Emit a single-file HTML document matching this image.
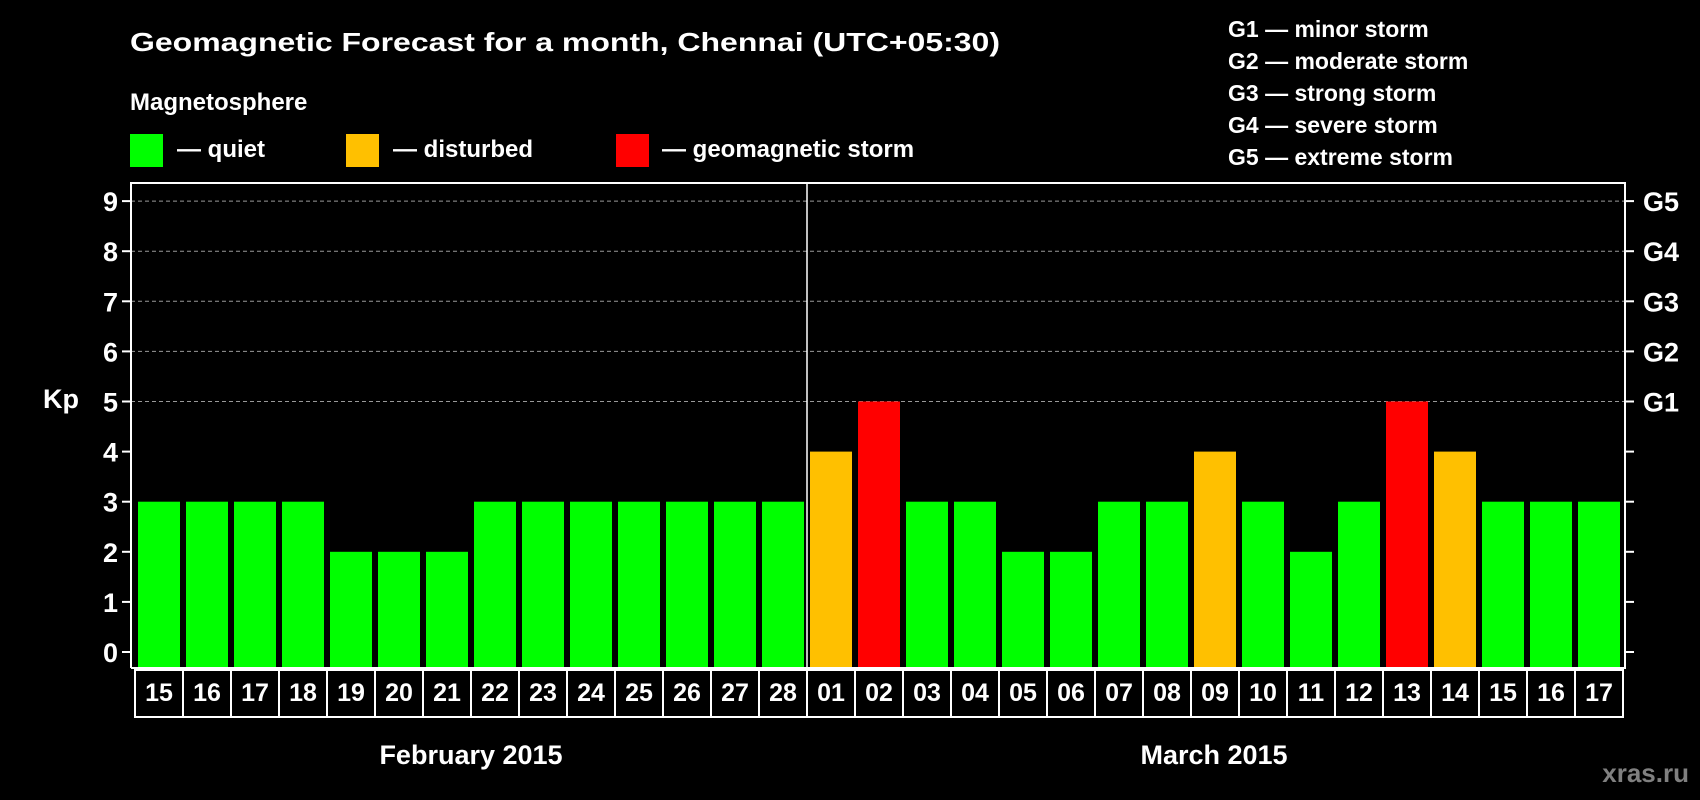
<!DOCTYPE html>
<html><head><meta charset="utf-8"><style>
html,body{margin:0;padding:0;background:#000;}
svg{display:block;font-family:"Liberation Sans",Arial,sans-serif;font-weight:bold;}
</style></head><body>
<svg id="chart" width="1700" height="800" viewBox="0 0 1700 800" xmlns="http://www.w3.org/2000/svg">
<rect width="1700" height="800" fill="#000"/>
<text x="130" y="51" fill="#fff" font-size="26" textLength="870" lengthAdjust="spacingAndGlyphs">Geomagnetic Forecast for a month, Chennai (UTC+05:30)</text>
<text x="130" y="110" fill="#fff" font-size="24">Magnetosphere</text>
<g>
<rect x="130" y="134" width="33" height="33" fill="#00ff00"/>
<text x="177" y="157" fill="#fff" font-size="24">— quiet</text></g>
<g>
<rect x="346" y="134" width="33" height="33" fill="#ffc000"/>
<text x="393" y="157" fill="#fff" font-size="24">— disturbed</text></g>
<g>
<rect x="616" y="134" width="33" height="33" fill="#ff0000"/>
<text x="662" y="157" fill="#fff" font-size="24">— geomagnetic storm</text></g>
<g fill="#fff" font-size="23">
<text x="1228" y="37">G1 — minor storm</text>
<text x="1228" y="69">G2 — moderate storm</text>
<text x="1228" y="101">G3 — strong storm</text>
<text x="1228" y="133">G4 — severe storm</text>
<text x="1228" y="165">G5 — extreme storm</text>
</g>
<text x="43" y="408" fill="#fff" font-size="27">Kp</text>
<g id="grid"></g>
<g id="bars"></g>
<g id="axes"></g>
<text x="471" y="764" fill="#fff" font-size="27" text-anchor="middle">February 2015</text>
<text x="1214" y="764" fill="#fff" font-size="27" text-anchor="middle">March 2015</text>
<text x="1689" y="782" fill="#808080" font-size="26" text-anchor="end">xras.ru</text>
</svg>
<script>
const days = ["15","16","17","18","19","20","21","22","23","24","25","26","27","28","01","02","03","04","05","06","07","08","09","10","11","12","13","14","15","16","17"];
const kpValues = [3,3,3,3,2,2,2,3,3,3,3,3,3,3,4,5,3,3,2,2,3,3,4,3,2,3,5,4,3,3,3];
const yTicks = [0,1,2,3,4,5,6,7,8,9];
const gLabels = ["G1","G2","G3","G4","G5"];
const monthBreakIndex = 14;

const NS = "http://www.w3.org/2000/svg";
const plotL = 131, plotR = 1625, plotT = 183, plotB = 668;
const y0 = 652, unit = 50.1;
const barX0 = 138, pitch = 48, barW = 42;
function yScale(v){ return y0 - v*unit; }
function xScale(i){ return barX0 + i*pitch; }
function mk(tag, attrs, parent){ const e=document.createElementNS(NS,tag); for(const k in attrs) e.setAttribute(k,attrs[k]); parent.appendChild(e); return e; }
function color(v){ return v>=5 ? "#ff0000" : (v>=4 ? "#ffc000" : "#00ff00"); }

const grid = document.getElementById("grid"), bars = document.getElementById("bars"), axes = document.getElementById("axes");
yTicks.forEach(t=>{
  const y = yScale(t);
  if (t>=5){
    const gl = mk("line",{x1:plotL,x2:plotR,y1:y,y2:y,stroke:"#999","stroke-width":1,"stroke-dasharray":"4,3"},grid);
    
    
  }
  mk("line",{x1:plotL-9,x2:plotL,y1:y,y2:y,stroke:"#fff","stroke-width":2},axes);
  mk("line",{x1:plotR,x2:plotR+9,y1:y,y2:y,stroke:"#fff","stroke-width":2},axes);
  const tl = mk("text",{x:118,y:y+10,fill:"#fff","font-size":27,"text-anchor":"end"},axes);
  tl.textContent = t;
  
  
});
gLabels.forEach((g,i)=>{
  const gt = mk("text",{x:1643,y:yScale(5+i)+10,fill:"#fff","font-size":27},axes);
  gt.textContent = g;
  
  
});
kpValues.forEach((v,i)=>{
  const b = mk("rect",{x:xScale(i),y:yScale(v),width:barW,height:plotB-yScale(v),fill:color(v)},bars);
  
  
});
// plot frame
const frame = mk("path",{d:`M${plotL},${plotB} L${plotL},${plotT} L${plotR},${plotT} L${plotR},${plotB} L${plotL},${plotB}`,fill:"none",stroke:"#fff","stroke-width":2},axes);


const divX = xScale(monthBreakIndex)-3;
const div = mk("line",{x1:divX,x2:divX,y1:plotT,y2:plotB,stroke:"#fff","stroke-width":1.5},axes);


// day label boxes
const boxT = 670, boxB = 717;
const boxL = xScale(0)-3, boxR = xScale(days.length)-3;
const box = mk("rect",{x:boxL,y:boxT,width:boxR-boxL,height:boxB-boxT,fill:"none",stroke:"#fff","stroke-width":2},axes);


days.forEach((d,i)=>{
  if(i>0) mk("line",{x1:xScale(i)-3,x2:xScale(i)-3,y1:boxT,y2:boxB,stroke:"#fff","stroke-width":2},axes);
  const t = mk("text",{x:xScale(i)+barW/2,y:701,fill:"#fff","font-size":25,"text-anchor":"middle"},axes);
  t.textContent = d;
  
  
});
</script>
</body></html>
